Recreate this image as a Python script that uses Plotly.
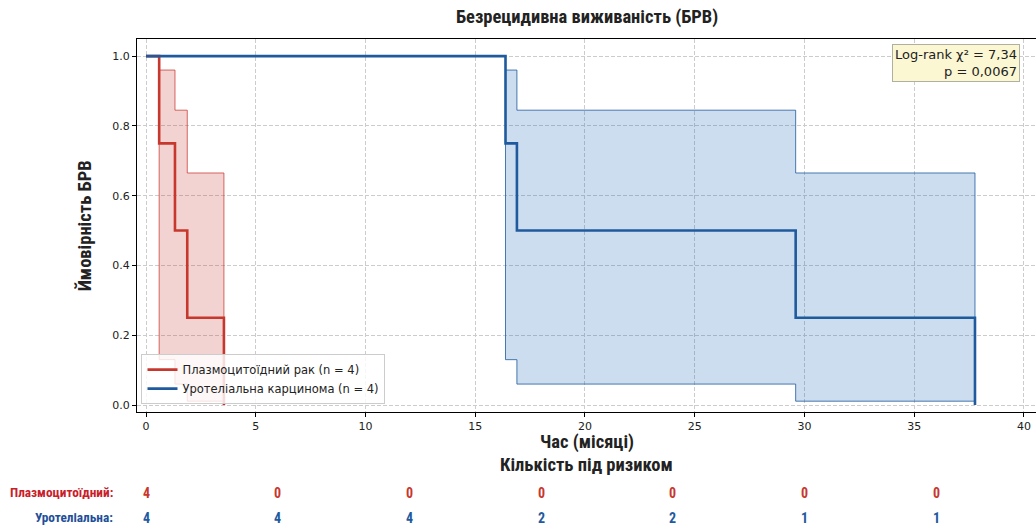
import plotly.graph_objects as go

# ---- data ----
red_name = "Плазмоцитоїдний рак (n = 4)"
blue_name = "Уротеліальна карцинома (n = 4)"

red_times = [0, 0.6, 1.32, 1.88, 3.55]
red_surv = [1.0, 0.75, 0.5, 0.25, 0.0]
red_ci_upper = [0.96, 0.845, 0.665]
red_ci_lower = [0.13, 0.06, 0.011]

blue_times = [0, 16.38, 16.9, 29.6, 37.77]
blue_surv = [1.0, 0.75, 0.5, 0.25, 0.0]
blue_ci_upper = [0.96, 0.845, 0.665]
blue_ci_lower = [0.13, 0.06, 0.011]

risk_times = [0, 6, 12, 18, 24, 30, 36]
red_risk = [4, 0, 0, 0, 0, 0, 0]
blue_risk = [4, 4, 4, 2, 2, 1, 1]

x_ticks = [0, 5, 10, 15, 20, 25, 30, 35, 40]
y_ticks = [0.0, 0.2, 0.4, 0.6, 0.8, 1.0]

RED = "#c8372d"
BLUE = "#1f5a9e"
RED_LABEL = "#c8202a"
BLUE_LABEL = "#1f4f99"
COND = "Roboto Condensed, Liberation Sans Narrow, DejaVu Sans Condensed, Roboto, sans-serif"
SANS = "DejaVu Sans, sans-serif"


def ci_polygon(times, upper, lower):
    # band spans from first event time to last event time
    ts = times[1:]
    xs, ys = [], []
    for i, u in enumerate(upper):
        xs += [ts[i], ts[i + 1]]
        ys += [u, u]
    lx, ly = [], []
    for i, l in enumerate(lower):
        lx += [ts[i], ts[i + 1]]
        ly += [l, l]
    xs += lx[::-1] + [xs[0]]
    ys += ly[::-1] + [ys[0]]
    return xs, ys


fig = go.Figure()

rx, ry = ci_polygon(red_times, red_ci_upper, red_ci_lower)
fig.add_trace(go.Scatter(x=rx, y=ry, mode="lines", fill="toself",
                         fillcolor="rgba(200,55,45,0.22)",
                         line=dict(color="rgba(200,55,45,0.75)", width=1),
                         showlegend=False, hoverinfo="skip"))
bx, by = ci_polygon(blue_times, blue_ci_upper, blue_ci_lower)
fig.add_trace(go.Scatter(x=bx, y=by, mode="lines", fill="toself",
                         fillcolor="rgba(31,110,180,0.23)",
                         line=dict(color="rgba(31,90,158,0.8)", width=1),
                         showlegend=False, hoverinfo="skip"))

fig.add_trace(go.Scatter(x=red_times, y=red_surv, mode="lines", name=red_name,
                         line=dict(color=RED, width=2.6, shape="hv")))
fig.add_trace(go.Scatter(x=blue_times, y=blue_surv, mode="lines", name=blue_name,
                         line=dict(color=BLUE, width=2.6, shape="hv")))

annotations = []
annotations.append(dict(xref="paper", yref="paper", x=0.5, y=1.058,
                        text="<b>Безрецидивна виживаність (БРВ)</b>", showarrow=False,
                        font=dict(family=COND, size=18.5, color="#222"), yanchor="middle"))
annotations.append(dict(xref="paper", yref="paper", x=0.5, y=-0.08,
                        text="<b>Час (місяці)</b>", showarrow=False,
                        font=dict(family=COND, size=18.5, color="#222"), yanchor="middle"))
annotations.append(dict(xref="paper", yref="paper", x=0.5, y=-0.141,
                        text="<b>Кількість під ризиком</b>", showarrow=False,
                        font=dict(family=COND, size=18.5, color="#222"), yanchor="middle"))
annotations.append(dict(xref="paper", yref="paper", x=-0.058, y=0.5,
                        text="<b>Ймовірність БРВ</b>", showarrow=False, textangle=-90,
                        font=dict(family=COND, size=18.5, color="#222"), xanchor="center",
                        yanchor="middle"))
annotations.append(dict(xref="paper", yref="paper", x=0.982, y=0.987,
                        text="Log-rank χ² = 7,34<br>p = 0,0067", showarrow=False,
                        align="right", xanchor="right", yanchor="top",
                        font=dict(family=SANS, size=13, color="#222"),
                        bgcolor="#fbf7d3", bordercolor="#b0b0a0", borderwidth=1, borderpad=2))

annotations.append(dict(xref="paper", yref="paper", x=-0.025, y=-0.217, xanchor="right",
                        yanchor="middle",
                        text="<b>Плазмоцитоїдний:</b>", showarrow=False,
                        font=dict(family=COND, size=13.3, color=RED_LABEL)))
annotations.append(dict(xref="paper", yref="paper", x=-0.025, y=-0.284, xanchor="right",
                        yanchor="middle",
                        text="<b>Уротеліальна:</b>", showarrow=False,
                        font=dict(family=COND, size=13.3, color=BLUE_LABEL)))
for t, r in zip(risk_times, red_risk):
    annotations.append(dict(xref="x", yref="paper", x=t, y=-0.217, text=f"<b>{r}</b>",
                            yanchor="middle",
                            showarrow=False, font=dict(family=COND, size=14, color=RED)))
for t, b in zip(risk_times, blue_risk):
    annotations.append(dict(xref="x", yref="paper", x=t, y=-0.284, text=f"<b>{b}</b>",
                            yanchor="middle",
                            showarrow=False, font=dict(family=COND, size=14, color=BLUE)))

fig.update_layout(
    width=1036, height=529,
    margin=dict(l=137, r=0, t=39, b=117, autoexpand=False),
    plot_bgcolor="white", paper_bgcolor="white",
    annotations=annotations,
    legend=dict(x=0.005, y=0.021, xanchor="left", yanchor="bottom",
                bgcolor="rgba(255,255,255,0.82)", bordercolor="#cccccc", borderwidth=1,
                font=dict(family=SANS, size=11.5, color="#222")),
    showlegend=True,
)
fig.update_xaxes(range=[-0.41, 40.55], tickvals=x_ticks, ticktext=[str(v) for v in x_ticks],
                 showgrid=True, gridcolor="#cccccc", griddash="4px,2px", gridwidth=1,
                 showline=True, linecolor="black", linewidth=1.2, mirror=True,
                 ticks="outside", ticklen=4, tickcolor="black", zeroline=False,
                 automargin=False,
                 tickfont=dict(family=SANS, size=11, color="#222"))
fig.update_yaxes(range=[-0.02, 1.049], tickvals=y_ticks, ticktext=[f"{v:.1f}" for v in y_ticks],
                 showgrid=True, gridcolor="#cccccc", griddash="4px,2px", gridwidth=1,
                 showline=True, linecolor="black", linewidth=1.2, mirror=True,
                 ticks="outside", ticklen=4, tickcolor="black", zeroline=False,
                 automargin=False,
                 tickfont=dict(family=SANS, size=11, color="#222"))

fig.write_html("out.html", config={"displayModeBar": False},
               post_script="document.body.style.margin='0';")
